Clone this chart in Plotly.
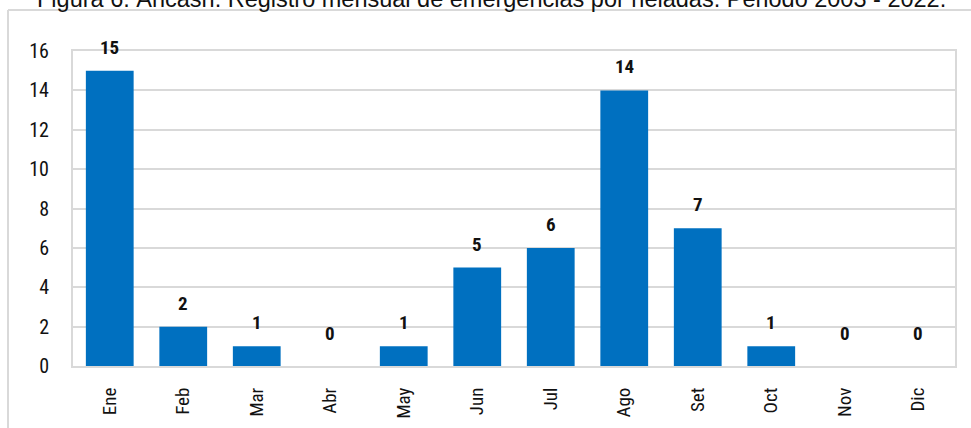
import plotly.graph_objects as go

months = ["Ene", "Feb", "Mar", "Abr", "May", "Jun", "Jul", "Ago", "Set", "Oct", "Nov", "Dic"]
emergencias = [15, 2, 1, 0, 1, 5, 6, 14, 7, 1, 0, 0]
y_ticks = [0, 2, 4, 6, 8, 10, 12, 14, 16]
title_text = "Figura 6. Áncash: Registro mensual de emergencias por heladas. Periodo 2003 - 2022."

COND = "Roboto Condensed, Liberation Sans Narrow, DejaVu Sans Condensed, Roboto, sans-serif"
BLUE = "#0070C0"
GRID = "#d9d9d9"

fig = go.Figure()
fig.add_trace(go.Bar(
    x=months, y=emergencias,
    marker=dict(color=BLUE, line=dict(width=0)),
    hoverinfo="x+y",
))

for m, v in zip(months, emergencias):
    fig.add_annotation(
        x=m, y=v, xref="x", yref="y",
        text=str(v), showarrow=False,
        yanchor="bottom", yshift=19 if v == 0 else 10,
        font=dict(family=COND, size=19, color="#111111", weight="bold"),
    )

# title (partially cut at the top, as in the reference)
fig.add_annotation(
    x=0.475, y=1.119, xref="paper", yref="paper",
    xanchor="center", yanchor="bottom", showarrow=False,
    text=title_text,
    font=dict(family="Liberation Sans, Arial, sans-serif", size=23.5, color="#111111"),
)

# outer frame lines (top and left)
fig.add_shape(type="line", xref="paper", yref="paper",
              x0=-0.0737, x1=1.03, y0=1.130, y1=1.130,
              line=dict(color=GRID, width=2))
fig.add_shape(type="line", xref="paper", yref="paper",
              x0=-0.0737, x1=-0.0737, y0=1.130, y1=-0.25,
              line=dict(color=GRID, width=2))

fig.update_layout(
    width=971, height=428,
    margin=dict(l=73, r=16, t=51, b=62, autoexpand=False),
    paper_bgcolor="white", plot_bgcolor="white",
    bargap=0.35,
    showlegend=False,
    xaxis=dict(
        automargin=False,
        showline=True, linecolor=GRID, linewidth=2, mirror=True,
        tickangle=-90, ticks="", ticklabelstandoff=12,
        tickfont=dict(family=COND, size=19, color="#111111"),
        showgrid=False,
    ),
    yaxis=dict(
        automargin=False,
        range=[0, 16], tickvals=y_ticks,
        showline=True, linecolor=GRID, linewidth=2, mirror=True,
        showgrid=True, gridcolor=GRID, gridwidth=1.5,
        ticks="", ticklabelstandoff=18, zeroline=False,
        tickfont=dict(family=COND, size=20, color="#111111"),
    ),
)

fig.write_html(
    "out.html",
    config={"displayModeBar": False},
    post_script="document.body.style.margin='0';document.body.style.overflow='hidden';",
)
